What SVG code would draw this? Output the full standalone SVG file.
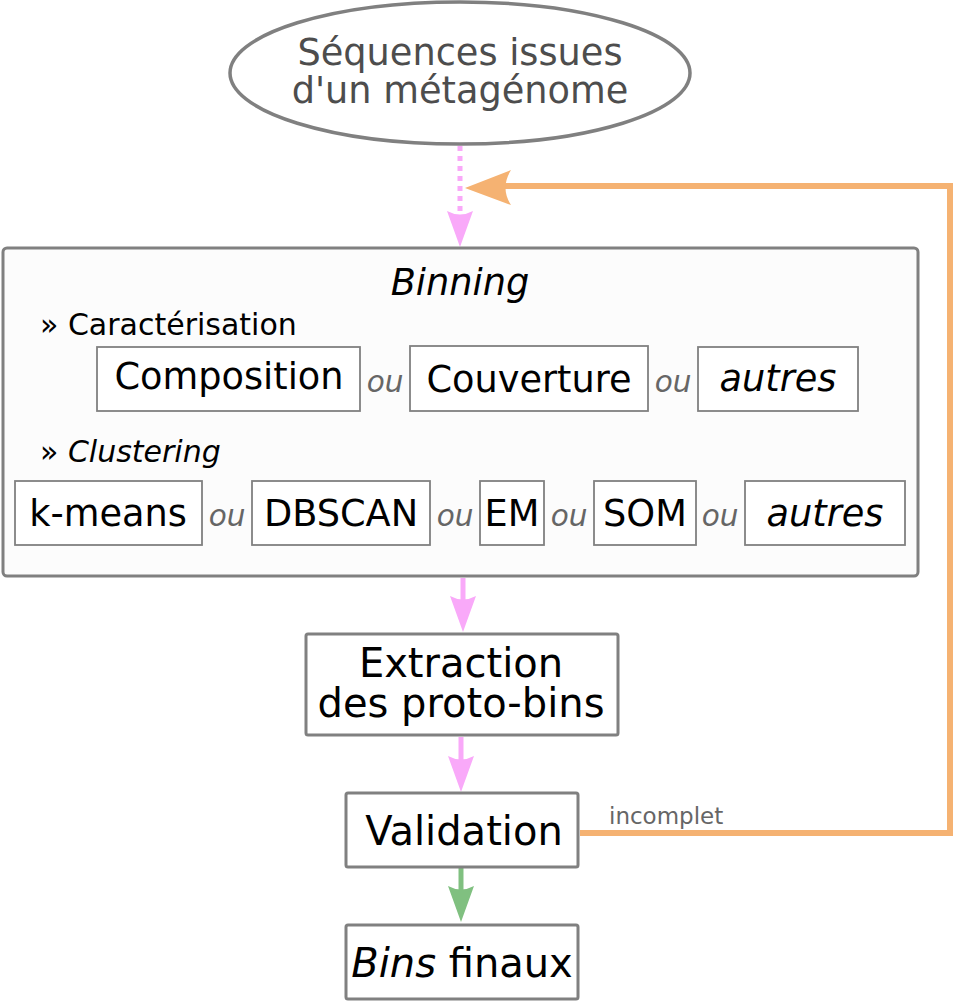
<svg xmlns="http://www.w3.org/2000/svg" width="954" height="1001" viewBox="0 0 954 1001">
<style>
text{font-family:"DejaVu Sans","Liberation Sans",sans-serif;}
.node{fill:#fff;stroke:#808080;stroke-width:3;}
.sub{fill:#fff;stroke:#808080;stroke-width:1.8;}
.t{font-size:40px;fill:#000;text-anchor:middle;}
.st{font-size:36.7px;fill:#000;text-anchor:middle;}
.ou{font-size:29.5px;fill:#666;font-style:italic;text-anchor:middle;}
.it{font-style:italic;}
</style>
<rect width="954" height="1001" fill="#fff"/>
<g id="connectors">
  <line x1="460" y1="146" x2="460" y2="214" stroke="#f9a9f9" stroke-width="5" stroke-dasharray="5,5"/>
  <path d="M460,247 L447,211 Q460,218 473,211 Z" fill="#f9a9f9"/>
  <line x1="463" y1="578" x2="463" y2="600" stroke="#f9a9f9" stroke-width="5"/>
  <path d="M463,632 L450,596 Q463,603 476,596 Z" fill="#f9a9f9"/>
  <line x1="461" y1="737" x2="461" y2="760" stroke="#f9a9f9" stroke-width="5"/>
  <path d="M461,792 L448,756 Q461,763 474,756 Z" fill="#f9a9f9"/>
  <line x1="461" y1="868" x2="461" y2="890" stroke="#80c080" stroke-width="5"/>
  <path d="M461,922 L448,886 Q461,893 474,886 Z" fill="#80c080"/>
  <polyline points="580,833 950,833 950,186 505,186" fill="none" stroke="#f5b272" stroke-width="6"/>
  <path d="M465,188 L511,170 Q500,188 511,205 Z" fill="#f5b272"/>
  <text x="609" y="824" font-size="23" fill="#666">incomplet</text>
</g>
<g id="source">
  <ellipse cx="460" cy="73" rx="230" ry="71" fill="#fff" stroke="#808080" stroke-width="3.5"/>
  <text x="460" y="65" font-size="36.7" fill="#4d4d4d" text-anchor="middle">Séquences issues</text>
  <text x="460" y="103" font-size="36.7" fill="#4d4d4d" text-anchor="middle">d'un métagénome</text>
</g>
<g id="binning">
  <rect x="3" y="248" width="915" height="328" rx="4" fill="#fcfcfc" stroke="#808080" stroke-width="3"/>
  <text x="460" y="295" font-size="36.7" font-style="italic" text-anchor="middle">Binning</text>
  <text x="40" y="335" font-size="30">» Caractérisation</text>
  <text x="40" y="462" font-size="30">» <tspan class="it">Clustering</tspan></text>
</g>
<g id="composition"><rect class="sub" x="97" y="347" width="263" height="64"/><text class="st" x="229" y="389">Composition</text></g>
<text class="ou" x="385" y="392">ou</text>
<g id="couverture"><rect class="sub" x="410" y="346" width="238" height="65"/><text class="st" x="529" y="392">Couverture</text></g>
<text class="ou" x="673" y="392">ou</text>
<g id="autres1"><rect class="sub" x="698" y="347" width="160" height="64"/><text class="st it" x="778" y="391">autres</text></g>
<g id="kmeans"><rect class="sub" x="15" y="481" width="187" height="64"/><text class="st" x="108" y="526">k-means</text></g>
<text class="ou" x="227" y="526">ou</text>
<g id="dbscan"><rect class="sub" x="252" y="481" width="178" height="64"/><text class="st" x="341" y="526">DBSCAN</text></g>
<text class="ou" x="455" y="526">ou</text>
<g id="em"><rect class="sub" x="480" y="481" width="64" height="64"/><text class="st" x="512" y="526">EM</text></g>
<text class="ou" x="569" y="526">ou</text>
<g id="som"><rect class="sub" x="594" y="481" width="102" height="64"/><text class="st" x="645" y="526">SOM</text></g>
<text class="ou" x="720" y="526">ou</text>
<g id="autres2"><rect class="sub" x="745" y="481" width="160" height="64"/><text class="st it" x="825" y="526">autres</text></g>
<g id="extraction">
  <rect class="node" x="306" y="634" width="312" height="101" rx="2"/>
  <text class="t" x="461" y="677">Extraction</text>
  <text class="t" x="461" y="717">des proto-bins</text>
</g>
<g id="validation">
  <rect class="node" x="346" y="793" width="232" height="74" rx="2"/>
  <text class="t" x="464" y="845">Validation</text>
</g>
<g id="bins">
  <rect class="node" x="346" y="925" width="232" height="74" rx="2"/>
  <text class="t" x="462" y="977"><tspan class="it">Bins</tspan> finaux</text>
</g>
</svg>
